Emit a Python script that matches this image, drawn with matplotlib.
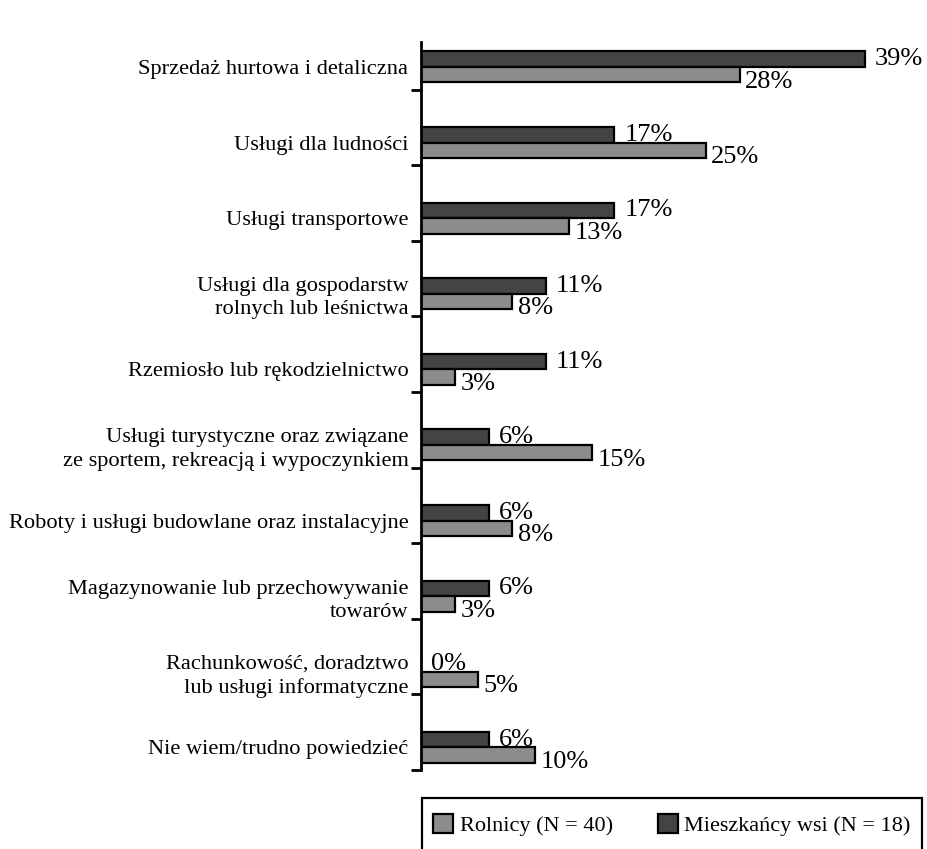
import numpy as np
import matplotlib.pyplot as plt
from matplotlib.patches import Patch, Rectangle

plt.rcParams['font.family'] = ['Liberation Serif', 'DejaVu Serif']

# categories and shares (%) for both groups
categories = [
    'Sprzedaż hurtowa i detaliczna',
    'Usługi dla ludności',
    'Usługi transportowe',
    'Usługi dla gospodarstw\nrolnych lub leśnictwa',
    'Rzemiosło lub rękodzielnictwo',
    'Usługi turystyczne oraz związane\nze sportem, rekreacją i wypoczynkiem',
    'Roboty i usługi budowlane oraz instalacyjne',
    'Magazynowanie lub przechowywanie\ntowarów',
    'Rachunkowość, doradztwo\nlub usługi informatyczne',
    'Nie wiem/trudno powiedzieć',
]
rolnicy = [28, 25, 13, 8, 3, 15, 8, 3, 5, 10]
mieszkancy = [39, 17, 17, 11, 11, 6, 6, 6, 0, 6]
legend_labels = ['Rolnicy (N = 40)', 'Mieszkańcy wsi (N = 18)']

light = '#8c8c8c'
dark = '#444444'

W, H = 927, 849
fig = plt.figure(figsize=(W / 100, H / 100), dpi=100)
ax = fig.add_axes([421 / W, 1 - 770 / H, 506 / W, 728 / H])

y = np.arange(len(categories))
h = 0.205
ax.barh(y - h / 2, mieszkancy, height=h, color=dark, edgecolor='black', linewidth=1.6)
ax.barh(y + h / 2, rolnicy, height=h, color=light, edgecolor='black', linewidth=1.6)

for i in range(len(categories)):
    ax.annotate(f'{mieszkancy[i]}%', (mieszkancy[i], y[i] - h / 2), xytext=(7, 0),
                textcoords='offset points', va='center', ha='left', fontsize=19)
    ax.annotate(f'{rolnicy[i]}%', (rolnicy[i], y[i] + h / 2), xytext=(4, -5),
                textcoords='offset points', va='center', ha='left', fontsize=19)

ax.set_xlim(0, 44.46)
ax.set_ylim(9.3, -0.33)

ax.set_yticks(y)
ax.set_yticklabels(categories, fontsize=16.1, ma='right', linespacing=1.3)
ax.tick_params(axis='y', which='major', length=0, pad=9)
ax.set_yticks(y + 0.3, minor=True)
ax.tick_params(axis='y', which='minor', length=7, width=2, direction='out')
ax.set_xticks([])

for s in ['top', 'right', 'bottom']:
    ax.spines[s].set_visible(False)
ax.spines['left'].set_linewidth(2)

# legend frame runs down past the bottom edge
fig.patches.append(Rectangle((422 / W, -0.01), 500 / W, 1 - 798 / H + 0.01,
                             transform=fig.transFigure, facecolor='none',
                             edgecolor='black', linewidth=1.6))
handles = [Patch(facecolor=light, edgecolor='black', linewidth=1.6),
           Patch(facecolor=dark, edgecolor='black', linewidth=1.6)]
fig.legend(handles, legend_labels, loc='center',
           bbox_to_anchor=(672 / W, 1 - 825 / H), ncol=2, fontsize=16,
           frameon=False, handlelength=0.9, handleheight=0.9, handletextpad=0.3,
           columnspacing=2.0, borderpad=0, borderaxespad=0)

fig.savefig('out.png', dpi=100)
